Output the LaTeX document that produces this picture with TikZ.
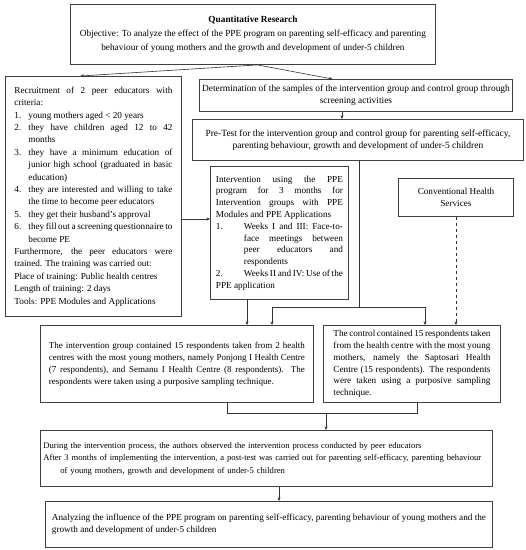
\documentclass[tikz,border=0pt]{standalone}
\usepackage{fontspec}
\setmainfont{Liberation Serif}
\usetikzlibrary{arrows.meta,calc}
\newcommand\itm[2][14pt]{\par\hangindent=#1\hangafter=1\noindent\makebox[#1][l]{#2}\ignorespaces}
\hyphenpenalty=10000
\tolerance=9999
\begin{document}
\begin{tikzpicture}[x=1pt,y=-1pt,
  box/.style={draw=black!75, line width=0.9pt, inner xsep=2pt, inner ysep=2pt,
    font=\fontsize{9.2}{11.8}\selectfont, anchor=north west},
  conn/.style={draw=black!80, line width=0.6pt},
  arr/.style={conn, -{Stealth[length=3.5pt,width=3pt]}}]
\useasboundingbox (0,0) rectangle (526,550);

\node[box, minimum width=365, minimum height=60, align=center, font=\fontsize{9.3}{14}\selectfont] (top) at (70,4)
  {\textbf{Quantitative Research}\\Objective: To analyze the effect of the PPE program on parenting self-efficacy and parenting\\ behaviour of young mothers and the growth and development of under-5 children};

\node[box, minimum width=176, minimum height=240, text width=158, align=justify, font=\fontsize{9.2}{12.4}\selectfont] (left) at (5,76)
  {Recruitment of 2 peer educators with criteria:
  \itm{1.}young mothers aged < 20 years
  \itm{2.}they have children aged 12 to 42 months
  \itm{3.}they have a minimum education of junior high school (graduated in basic education)
  \itm{4.}they are interested and willing to take the time to become peer educators
  \itm{5.}they get their husband's approval
  \itm{6.}they fill out a screening questionnaire to become PE
  \par\noindent Furthermore, the peer educators were trained. The training was carried out:
  \par\noindent Place of training: Public health centres
  \par\noindent Length of training: 2 days
  \par\noindent Tools: PPE Modules and Applications};

\node[box, minimum width=313, minimum height=32, align=center, font=\fontsize{9.4}{11.8}\selectfont] (det) at (199,79)
  {Determination of the samples of the intervention group and control group through\\ screening activities};

\node[box, minimum width=331, minimum height=41, align=center, font=\fontsize{9.5}{12.5}\selectfont] (pre) at (192,119)
  {Pre-Test for the intervention group and control group for parenting self-efficacy,\\ parenting behaviour, growth and development of under-5 children};

\node[box, minimum width=138, minimum height=133, text width=127, align=justify] (inv) at (210,166)
  {Intervention using the PPE program for 3 months for Intervention groups with PPE Modules and PPE Applications
  \itm[28pt]{1.}Weeks I and III: Face-to-\linebreak face meetings between peer educators and respondents
  \itm[28pt]{2.}Weeks II and IV: Use of the PPE application};

\node[box, minimum width=115, minimum height=38, align=center] (conv) at (398,178)
  {Conventional Health\\ Services};

\node[box, minimum width=273, minimum height=77, text width=256, align=justify, font=\fontsize{9.0}{12}\selectfont] (ig) at (40,325)
  {The intervention group contained 15 respondents taken from 2 health centres with the most young mothers, namely Ponjong I Health Centre (7 respondents), and Semanu I Health Centre (8 respondents). The\linebreak respondents were taken using a purposive sampling technique.};

\node[box, minimum width=177, minimum height=77, text width=157, align=justify] (ctl) at (323,325)
  {The control contained 15 respondents taken from the health centre with the most young mothers, namely the Saptosari Health Centre (15 respondents). The respondents were taken using a purposive sampling technique.};

\node[box, minimum width=452, minimum height=56, text width=446, align=left, font=\fontsize{8.6}{12.5}\selectfont] (dur) at (40,430)
  {During the intervention process, the authors observed the intervention process conducted by peer educators\\
  After 3 months of implementing the intervention, a post-test was carried out for parenting self-efficacy, parenting behaviour\\
  \hspace*{17pt}of young mothers, growth and development of under-5 children};

\node[box, minimum width=447, minimum height=46, text width=434, align=justify, font=\fontsize{9.2}{12.5}\selectfont] (fin) at (45,501)
  {Analyzing the influence of the PPE program on parenting self-efficacy, parenting behaviour of young mothers and the\linebreak growth and development of under-5 children};

% connectors
\draw[arr] ($(top.south)+(4.5,0)$) -- ($(left.north)+(-13,0)$);
\draw[arr] ($(top.south)+(4.5,0)$) -- ($(det.north)+(-23.5,0)$);
\coordinate (xa) at (342,0);
\draw[arr] (det.south -| xa) -- (pre.north -| xa);
\coordinate (xb) at (359,0);
\coordinate (jb) at (359,307);
\coordinate (jl) at (272,307);
\coordinate (jr) at (425,307);
\draw[conn] (pre.south -| xb) -- (jb);
\draw[conn] (jl) -- (jr);
\draw[arr] (jl) -- (ig.north -| jl);
\draw[arr] (jr) -- (ctl.north -| jr);
\coordinate (yc) at (0,219);
\draw[arr] (left.east |- yc) -- (inv.west |- yc);
\coordinate (xc) at (247,0);
\draw[arr] (inv.south -| xc) -- (ig.north -| xc);
\draw[arr, dashed] (conv.south) -- (ctl.north -| conv.south);
\coordinate (xd) at (227,0);
\coordinate (xe) at (417,0);
\coordinate (ym) at (0,413);
\draw[conn] (ig.south -| xd) -- (xd |- ym) -- (xe |- ym) -- (ctl.south -| xe);
\coordinate (xf) at (326,0);
\draw[arr] (xf |- ym) -- (dur.north -| xf);
\coordinate (xg) at (279,0);
\draw[arr] (dur.south -| xg) -- (fin.north -| xg);
\end{tikzpicture}
\end{document}
